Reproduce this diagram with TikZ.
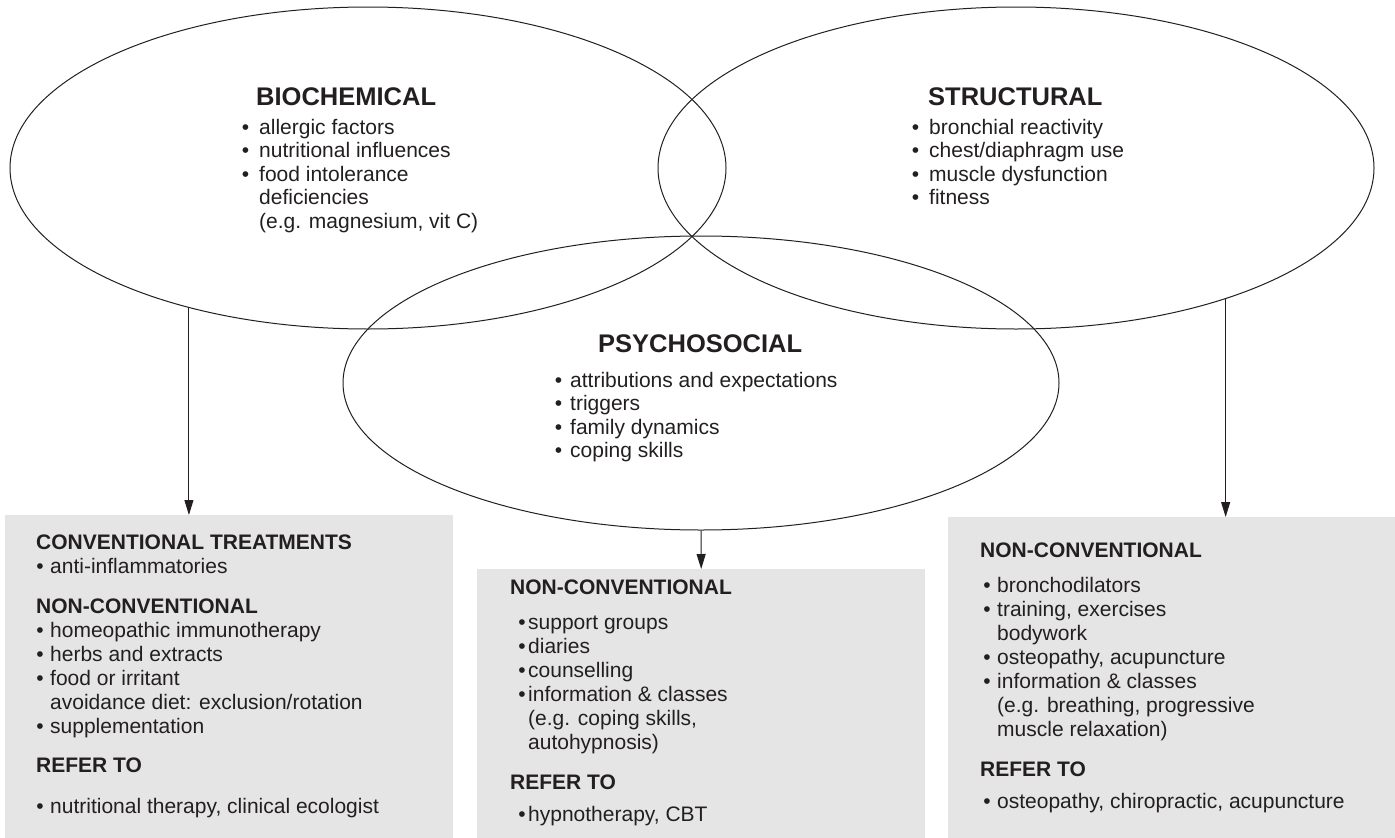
\documentclass[tikz,border=0pt]{standalone}
\usepackage{fontspec}
\setmainfont{Liberation Sans}
\usetikzlibrary{shapes.geometric,arrows.meta}

\definecolor{boxgray}{RGB}{229,229,229}
\definecolor{ink}{RGB}{35,31,32}

% bullet lists: \tind = indent of the item text, \bgap = space after the bullet
\newlength\tind
\newlength\bgap
\newcommand\bitem[1]{\hbox{\hbox to\tind{\hfil\textbullet\hskip\bgap}#1}}
\newcommand\bcont[1]{\hbox{\hskip\tind #1}}
\newcommand\bhead[1]{\hbox{\bfseries #1}}
\newcommand\tstack[4][24pt]{\setlength\tind{#2}\setlength\bgap{#3}\vtop{\baselineskip=#1\relax #4}}

\tikzset{
  region/.style={ellipse, draw=ink, line width=1pt, inner sep=0pt},
  panel/.style={rectangle, fill=boxgray, inner sep=0pt, anchor=north west},
  txt/.style={anchor=base west, inner sep=0pt, text=ink, font=\fontsize{21}{24}\selectfont},
  headtxt/.style={anchor=base west, inner sep=0pt, text=ink, font=\bfseries\fontsize{25.5}{28}\selectfont},
  link/.style={draw=ink, line width=1pt, -{Triangle[length=15pt,width=9pt]}},
}

\begin{document}
\begin{tikzpicture}[x=1pt,y=-1pt]
\useasboundingbox (0,0) rectangle (1395,838);

% treatment panels
\node[panel, minimum width=448pt, minimum height=323pt] (lbox) at (5,515) {};
\node[panel, minimum width=448pt, minimum height=269pt] (mbox) at (477,569) {};
\node[panel, minimum width=447pt, minimum height=321pt] (rbox) at (948,517) {};

% the three overlapping factor regions
\node[region, minimum width=716pt, minimum height=322pt] (bio) at (368,168) {};
\node[region, minimum width=716pt, minimum height=322pt] (str) at (1016,168) {};
\node[region, minimum width=716pt, minimum height=294pt] (psy) at (701,383) {};

% connectors from each region to its panel
\draw[link] (bio.218) -- (bio.218 |- lbox.north);
\draw[link] (psy.south) -- (mbox.north);
\draw[link] (str.328) -- (str.328 |- rbox.north);

% region texts
\node[headtxt] (bt) at (256,105) {BIOCHEMICAL};
\node[txt] (bl) at (239,134) {\tstack[23.6pt]{20pt}{10pt}{%
  \bitem{allergic factors}\bitem{nutritional influences}\bitem{food intolerance}%
  \bcont{deficiencies}\bcont{(e.g. magnesium, vit C)}}};

\node[headtxt] (st) at (928,105) {STRUCTURAL};
\node[txt] (sl) at (909,134) {\tstack[23.6pt]{20pt}{10pt}{%
  \bitem{bronchial reactivity}\bitem{chest/diaphragm use}\bitem{muscle dysfunction}\bitem{fitness}}};

\node[headtxt] (pt) at (598,352) {PSYCHOSOCIAL};
\node[txt] (pl) at (550,387.5) {\tstack[23.3pt]{20pt}{8pt}{%
  \bitem{attributions and expectations}\bitem{triggers}\bitem{family dynamics}\bitem{coping skills}}};

% panel texts
\node[txt] (lt) at (36,549) {\tstack{14pt}{6.5pt}{%
  \bhead{CONVENTIONAL TREATMENTS}\bitem{anti-inflammatories}\vskip16pt
  \bhead{NON-CONVENTIONAL}\bitem{homeopathic immunotherapy}\bitem{herbs and extracts}%
  \bitem{food or irritant}\bcont{avoidance diet: exclusion/rotation}\bitem{supplementation}\vskip15pt
  \bhead{REFER TO}\vskip17pt
  \bitem{nutritional therapy, clinical ecologist}}};

\node[txt] (mt) at (510,594) {\tstack{18pt}{2.5pt}{%
  \bhead{NON-CONVENTIONAL}\vskip11pt
  \bitem{support groups}\bitem{diaries}\bitem{counselling}\bitem{information \& classes}%
  \bcont{(e.g. coping skills,}\bcont{autohypnosis)}\vskip16pt
  \bhead{REFER TO}\vskip8pt
  \bitem{hypnotherapy, CBT}}};

\node[txt] (rt) at (980,557) {\tstack{17pt}{6.5pt}{%
  \bhead{NON-CONVENTIONAL}\vskip11pt
  \bitem{bronchodilators}\bitem{training, exercises}\bcont{bodywork}%
  \bitem{osteopathy, acupuncture}\bitem{information \& classes}%
  \bcont{(e.g. breathing, progressive}\bcont{muscle relaxation)}\vskip16pt
  \bhead{REFER TO}\vskip8pt
  \bitem{osteopathy, chiropractic, acupuncture}}};
\end{tikzpicture}
\end{document}
